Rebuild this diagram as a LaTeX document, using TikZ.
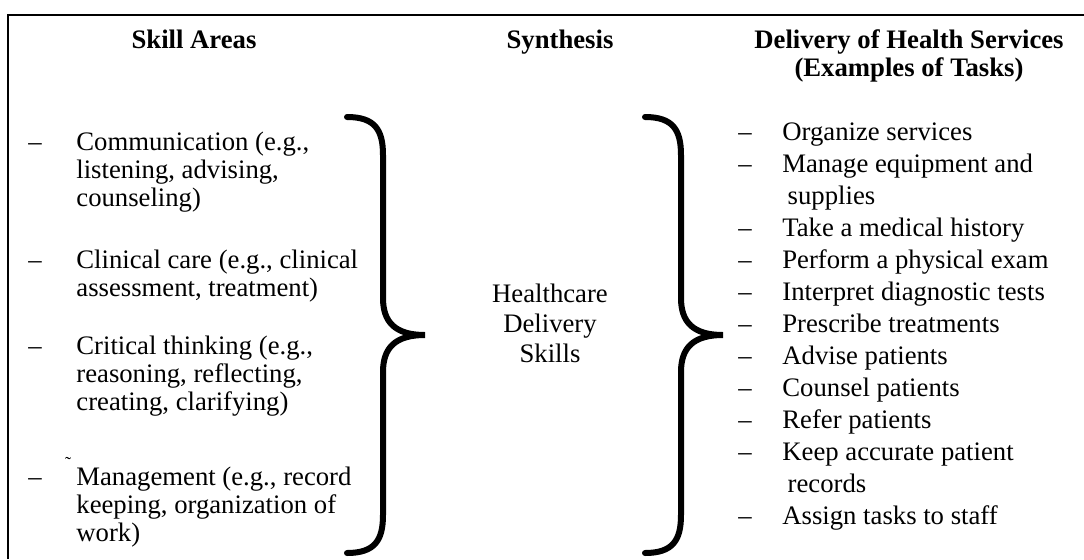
\documentclass[tikz,border=0pt]{standalone}
\usepackage{fontspec}
\setmainfont{Liberation Serif}
\usetikzlibrary{positioning}
\tikzstyle{head}=[anchor=base,align=center,inner sep=0pt,font=\bfseries\fontsize{13.35}{14}\selectfont]
\tikzstyle{skill}=[anchor=base west,align=left,inner sep=0pt,font=\fontsize{13.35}{14}\selectfont]
\tikzstyle{task}=[anchor=base west,align=left,inner sep=0pt,font=\fontsize{13.35}{16}\selectfont]
\tikzstyle{itemdash}=[anchor=base west,inner sep=0pt,font=\fontsize{13.35}{14}\selectfont]
\tikzstyle{curly}=[line width=3pt,line cap=round]

\begin{document}
\begin{tikzpicture}[x=0.5pt,y=-0.5pt]
  \useasboundingbox (0,0) rectangle (1084,559);
  % frame
  \draw[line width=1pt] (8,559) -- (8,15) -- (1084,15);

  % headings (multi-line nodes sit on their last line)
  \node [head] (hskill) at (194,48)  {Skill Areas};
  \node [head] (hsynth) at (560,48)  {Synthesis};
  \node [head] (hdeliv) at (909,76)  {Delivery of Health Services\\(Examples of Tasks)};

  % skill areas
  \node [skill] (comm) at (76,206) {Communication (e.g.,\\listening, advising,\\counseling)};
  \node [skill] (clin) at (76,296) {Clinical care (e.g., clinical\\assessment, treatment)};
  \node [skill] (crit) at (76,410) {Critical thinking (e.g.,\\reasoning, reflecting,\\creating, clarifying)};
  \node [skill] (mgmt) at (76,541) {Management (e.g., record\\keeping, organization of\\work)};
  \foreach \y in {150,268,354,485}
    \node [itemdash] (ds\y) at (28,\y) {–};
  \node [inner sep=0pt,font=\fontsize{9}{9}\selectfont] (tld) at (68,463) {˜};

  % braces
  \foreach \dx in {0,298}
    \draw [curly,xshift=\dx*0.5pt] (347,117) .. controls (375,117) and (383,130) .. (383,155)
      -- (383,298) .. controls (383,322) and (395,335) .. (425,335)
      .. controls (395,335) and (383,348) .. (383,372)
      -- (383,515) .. controls (383,540) and (375,553) .. (347,553);

  % synthesis
  \node [align=center,inner sep=0pt,anchor=base,font=\fontsize{13.35}{15}\selectfont] (hds) at (550,362) {Healthcare\\Delivery\\Skills};

  % tasks
  \node [task] (t1)  at (782,140) {Organize services};
  \node [task] (t2)  at (782,204) {Manage equipment and\\\hspace*{0.2em}supplies};
  \node [task] (t3)  at (782,236) {Take a medical history};
  \node [task] (t4)  at (782,268) {Perform a physical exam};
  \node [task] (t5)  at (782,300) {Interpret diagnostic tests};
  \node [task] (t6)  at (782,332) {Prescribe treatments};
  \node [task] (t7)  at (782,364) {Advise patients};
  \node [task] (t8)  at (782,396) {Counsel patients};
  \node [task] (t9)  at (782,428) {Refer patients};
  \node [task] (t10) at (782,492) {Keep accurate patient\\\hspace*{0.2em}records};
  \node [task] (t11) at (782,524) {Assign tasks to staff};
  \foreach \y in {140,172,236,268,300,332,364,396,428,460,524}
    \node [itemdash] (dt\y) at (738,\y) {–};
\end{tikzpicture}
\end{document}
